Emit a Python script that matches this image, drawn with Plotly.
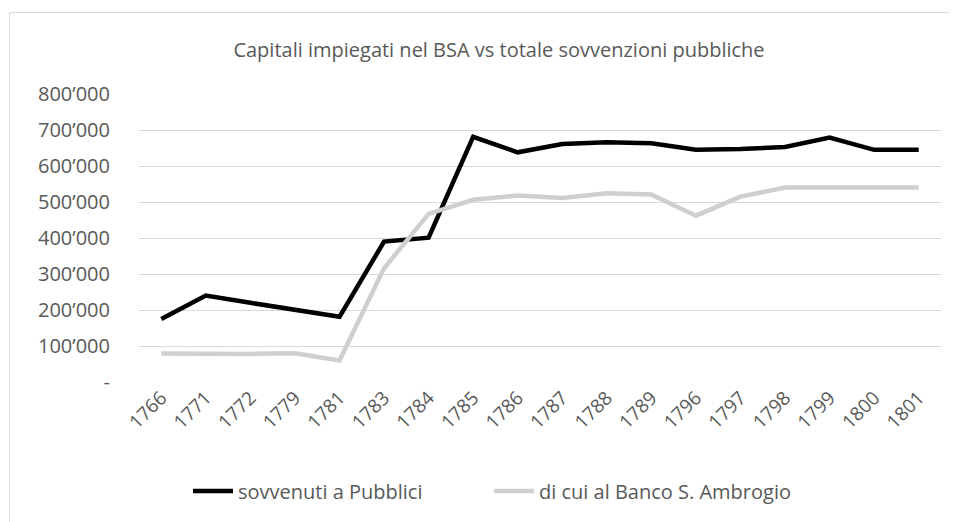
import plotly.graph_objects as go

years = ["1766", "1771", "1772", "1779", "1781", "1783", "1784", "1785", "1786",
         "1787", "1788", "1789", "1796", "1797", "1798", "1799", "1800", "1801"]
sovvenuti = [175000, 240000, 220000, 200000, 181000, 390000, 401000, 681000, 638000,
             661000, 666000, 663000, 645000, 647000, 653000, 679000, 645000, 645000]
banco = [79000, 78000, 78000, 80000, 60000, 316000, 467000, 506000, 518000,
         511000, 524000, 521000, 462000, 515000, 540000, 540000, 540000, 540000]
yticks = [0, 100000, 200000, 300000, 400000, 500000, 600000, 700000, 800000]
yticklabels = ["-", "100’000", "200’000", "300’000", "400’000", "500’000",
               "600’000", "700’000", "800’000"]

FONT = "Open Sans"
TXT = "#595959"
OFF = 8  # page body margin offset

# target screen positions of the plot area
SX0, SX1, SY0, SY1 = 139, 941, 94, 382
W, H = 957, 522
L, R, T, B = SX0 - OFF, W - (SX1 - OFF), SY0 - OFF, H - (SY1 - OFF)
pw, ph = SX1 - SX0, SY1 - SY0
def px(x): return (x - SX0) / pw
def py(y): return (SY1 - y) / ph

fig = go.Figure()
fig.add_trace(go.Scatter(x=years, y=sovvenuti, mode="lines", name="sovvenuti a Pubblici",
                         line=dict(color="#000000", width=4.5), legend="legend"))
fig.add_trace(go.Scatter(x=years, y=banco, mode="lines", name="di cui al Banco S. Ambrogio",
                         line=dict(color="#d0cece", width=4.5), legend="legend2"))

fig.add_shape(type="rect", xref="paper", yref="paper",
              x0=px(9.5), x1=px(980), y0=py(560), y1=py(12.5),
              line=dict(color="#d9d9d9", width=1), fillcolor="rgba(0,0,0,0)", layer="below")

leg_common = dict(orientation="h", yanchor="middle", y=py(491), xanchor="left",
                  font=dict(size=20, color=TXT), itemwidth=40, bgcolor="rgba(0,0,0,0)")

fig.update_layout(
    width=W, height=H,
    margin=dict(l=L, r=R, t=T, b=B),
    paper_bgcolor="white", plot_bgcolor="white",
    font=dict(family=FONT, color=TXT, size=16),
    title=dict(text="Capitali impiegati nel BSA vs totale sovvenzioni pubbliche",
               x=px(499), xref="paper", xanchor="center", y=1 - (50 - OFF) / H, yanchor="middle",
               font=dict(family=FONT, size=20, color=TXT)),
    xaxis=dict(type="category", tickangle=-45, showgrid=False, zeroline=False,
               showline=False, ticks="", tickfont=dict(size=19, color=TXT),
               range=[-0.5, len(years) - 0.5]),
    yaxis=dict(range=[0, 800000], tickvals=yticks, ticktext=yticklabels,
               showgrid=True, gridcolor="#d9d9d9", gridwidth=1, zeroline=False,
               showline=False, ticks="", tickfont=dict(size=20, color=TXT),
               ticklabelstandoff=28),
    legend=dict(x=px(188), **leg_common),
    legend2=dict(x=px(489), **leg_common),
    showlegend=True,
)

fig.write_html("out.html")
